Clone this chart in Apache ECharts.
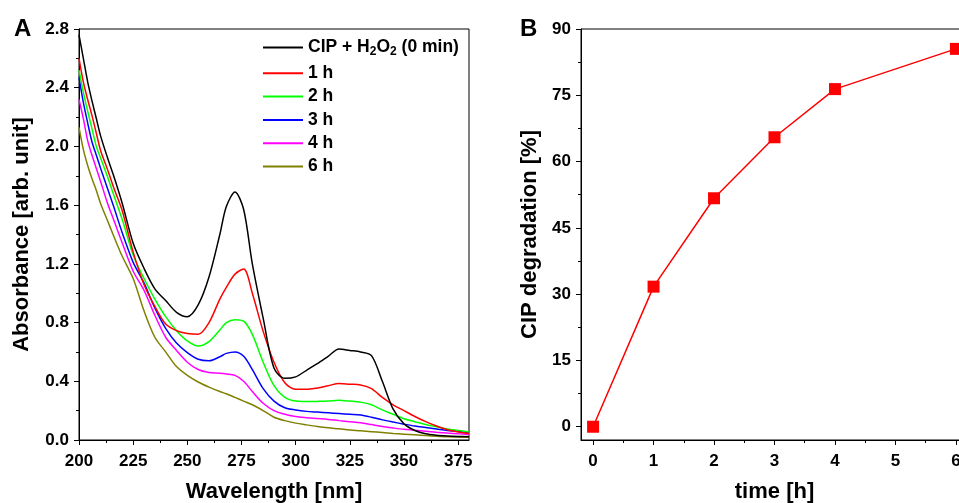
<!DOCTYPE html>
<html><head><meta charset="utf-8">
<script src="https://cdn.jsdelivr.net/npm/echarts@6/dist/echarts.min.js"></script>
<style>html,body{margin:0;padding:0;background:#fff}#c{width:959px;height:503px}</style>
</head><body><div id="c"></div>
<script>
// ---- Panel A data: UV-Vis spectra ----
const wavelength = [200,202,204,206,208,210,213,216,220,225,230,235,240,245,250,255,260,265,268,272,276,280,285,290,295,300,305,310,315,320,325,330,335,340,345,350,355,360,365,370,375,380];
const abs0min = [2.76,2.60,2.44,2.31,2.19,2.07,1.93,1.80,1.61,1.34,1.17,1.03,0.95,0.87,0.84,0.92,1.11,1.40,1.59,1.69,1.57,1.20,0.83,0.49,0.42,0.43,0.475,0.52,0.57,0.62,0.61,0.60,0.575,0.40,0.21,0.11,0.065,0.042,0.032,0.027,0.024,0.022];
const abs1h = [2.60,2.44,2.32,2.21,2.09,1.97,1.85,1.72,1.56,1.28,1.06,0.91,0.79,0.745,0.725,0.72,0.80,0.96,1.04,1.13,1.165,1.00,0.74,0.53,0.39,0.345,0.345,0.355,0.37,0.385,0.38,0.375,0.35,0.29,0.24,0.20,0.16,0.125,0.095,0.07,0.055,0.045];
const abs2h = [2.52,2.37,2.24,2.12,2.00,1.92,1.80,1.67,1.50,1.26,1.10,0.96,0.84,0.745,0.675,0.64,0.67,0.75,0.80,0.82,0.81,0.72,0.53,0.37,0.29,0.265,0.262,0.263,0.265,0.27,0.265,0.258,0.24,0.205,0.175,0.145,0.125,0.105,0.09,0.075,0.065,0.055];
const abs3h = [2.47,2.30,2.16,2.03,1.94,1.85,1.72,1.59,1.41,1.21,1.07,0.90,0.76,0.66,0.595,0.55,0.54,0.567,0.59,0.60,0.57,0.48,0.35,0.265,0.22,0.205,0.195,0.19,0.185,0.18,0.175,0.17,0.155,0.137,0.122,0.108,0.095,0.085,0.075,0.065,0.058,0.05];
const abs4h = [2.32,2.19,2.04,1.94,1.85,1.76,1.62,1.50,1.34,1.15,1.02,0.85,0.70,0.61,0.53,0.48,0.46,0.455,0.45,0.44,0.40,0.33,0.25,0.20,0.175,0.16,0.152,0.146,0.14,0.132,0.125,0.118,0.105,0.092,0.082,0.073,0.067,0.06,0.053,0.047,0.042,0.038];
const abs6h = [2.13,1.98,1.87,1.78,1.70,1.61,1.50,1.39,1.25,1.10,0.88,0.70,0.60,0.50,0.44,0.395,0.36,0.33,0.315,0.29,0.265,0.24,0.20,0.155,0.132,0.115,0.103,0.092,0.083,0.076,0.068,0.063,0.057,0.051,0.045,0.04,0.035,0.03,0.026,0.022,0.02,0.018];
const seriesNames = ['CIP + H2O2 (0 min)','1 h','2 h','3 h','4 h','6 h'];
const xTicksA = [200,225,250,275,300,325,350,375];
const xMinorA = [212.5,237.5,262.5,287.5,312.5,337.5,362.5];
const yTicksA = [0,0.4,0.8,1.2,1.6,2.0,2.4,2.8];
const yMinorA = [0.2,0.6,1.0,1.4,1.8,2.2,2.6];

// ---- Panel B data: degradation ----
const timeH = [0,1,2,3,4,6];
const degradation = [0,31.7,51.7,65.5,76.4,85.5];
const xTicksB = [0,1,2,3,4,5,6];
const xMinorB = [0.5,1.5,2.5,3.5,4.5,5.5];
const yTicksB = [0,15,30,45,60,75,90];
const yMinorB = [7.5,22.5,37.5,52.5,67.5,82.5];

const FONT = "'Liberation Sans', Arial, Helvetica, sans-serif";
const lineColors = ['#000000','#ff0000','#00ff00','#0000ff','#ff00ff','#808000'];
const spectra = [abs0min, abs1h, abs2h, abs3h, abs4h, abs6h];
const lbl = {fontFamily:FONT, fontWeight:'bold', fontSize:17, color:'#000'};
const nameStyle = {fontFamily:FONT, fontWeight:'bold', fontSize:22, color:'#000'};

function mainAxis(gridIndex, min, max, ticks, name, nameGap, fmt, margin){
  return {
    gridIndex, type:'value', min, max,
    axisLine:{show:true, onZero:false, lineStyle:{color:'#000', width:1}},
    axisTick:{show:true, inside:false, length:5, customValues:ticks, lineStyle:{color:'#000', width:1}},
    axisLabel:{...lbl, margin, customValues:ticks, formatter:fmt},
    splitLine:{show:false},
    name, nameLocation:'middle', nameGap, nameTextStyle:nameStyle
  };
}
function minorAxis(gridIndex, min, max, ticks){
  return {
    gridIndex, type:'value', min, max,
    axisLine:{show:false, onZero:false},
    axisTick:{show:true, inside:false, length:3, customValues:ticks, lineStyle:{color:'#000', width:1}},
    axisLabel:{show:false},
    splitLine:{show:false}
  };
}

const series = spectra.map((ys, i) => ({
  name: seriesNames[i], type:'line', xAxisIndex:0, yAxisIndex:0,
  data: wavelength.map((w, j) => [w, ys[j]]),
  showSymbol:false, symbol:'none', smooth:0.3,
  lineStyle:{color:lineColors[i], width:1.5}, itemStyle:{color:lineColors[i]},
  z: 10 - i
}));
series.push({
  name:'CIP degradation', type:'line', xAxisIndex:2, yAxisIndex:2,
  data: timeH.map((t, i) => [t, degradation[i]]),
  symbol:'rect', symbolSize:12,
  lineStyle:{color:'#ff0000', width:1.5}, itemStyle:{color:'#ff0000'}
});

const xA = mainAxis(0, 200, 380, xTicksA, 'Wavelength [nm]', 41, v => String(v), 13);
xA.position = 'bottom';
const xAm = minorAxis(0, 200, 380, xMinorA); xAm.position = 'bottom';
const xB = mainAxis(1, -0.2, 6.2, xTicksB, 'time [h]', 41, v => String(Math.round(v)), 13);
xB.position = 'bottom';
const xBm = minorAxis(1, -0.2, 6.2, xMinorB); xBm.position = 'bottom';
const yA = mainAxis(0, 0, 2.8, yTicksA, 'Absorbance [arb. unit]', 46, v => v.toFixed(1), 10);
yA.position = 'left';
const yAm = minorAxis(0, 0, 2.8, yMinorA); yAm.position = 'left';
const yB = mainAxis(1, -3, 90, yTicksB, 'CIP degradation [%]', 40, v => String(Math.round(v)), 10);
yB.position = 'left';
const yBm = minorAxis(1, -3, 90, yMinorB); yBm.position = 'left';

const chart = echarts.init(document.getElementById('c'), null, {renderer:'canvas'});
chart.setOption({
  animation:false,
  backgroundColor:'#fff',
  title:[
    {text:'A', left:9, top:12, textStyle:{fontFamily:FONT, fontWeight:'bold', fontSize:24, color:'#000'}},
    {text:'B', left:515, top:12, textStyle:{fontFamily:FONT, fontWeight:'bold', fontSize:24, color:'#000'}}
  ],
  legend:{
    data: seriesNames, orient:'vertical', left:262, top:36,
    itemWidth:40, itemHeight:14, itemGap:5.3, padding:0,
    itemStyle:{opacity:0},
    textStyle:{fontFamily:FONT, fontWeight:'bold', fontSize:17.5, color:'#000', lineHeight:18,
      rich:{s:{fontFamily:FONT, fontWeight:'bold', fontSize:12, color:'#000', lineHeight:23, padding:[8,0,0,0]}}},
    formatter: n => n.indexOf('CIP') === 0 ? 'CIP + H{s|2}O{s|2} (0 min)' : n
  },
  grid:[
    {left:79, top:29, width:390, height:411, show:true, borderColor:'#000', borderWidth:1, backgroundColor:'transparent', outerBoundsMode:'none', containLabel:false},
    {left:581, top:29, width:387, height:411, show:true, borderColor:'#000', borderWidth:1, backgroundColor:'transparent', outerBoundsMode:'none', containLabel:false}
  ],
  xAxis:[xA, xAm, xB, xBm],
  yAxis:[yA, yAm, yB, yBm],
  series
});
</script></body></html>
